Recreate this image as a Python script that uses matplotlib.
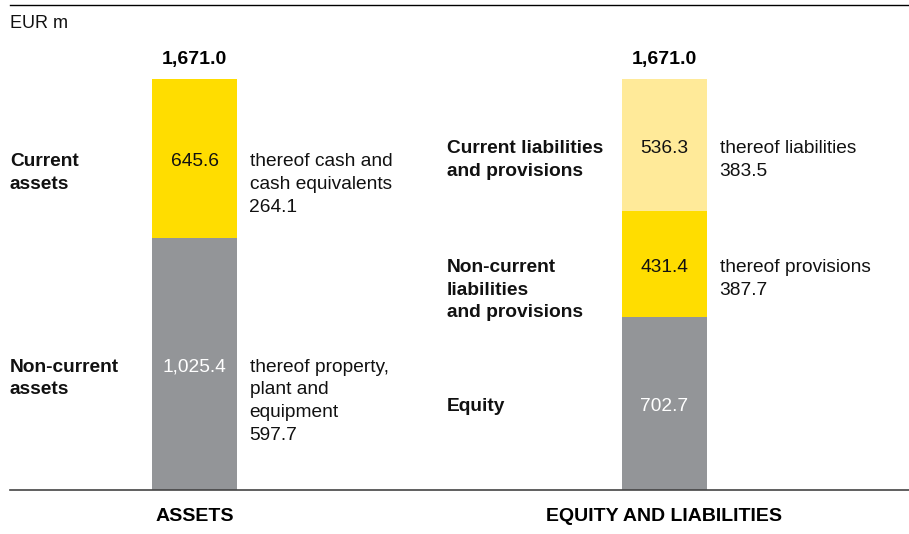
import matplotlib
matplotlib.use('Agg')
from matplotlib import pyplot as plt
from matplotlib.lines import Line2D

plt.rcParams['font.family'] = ['Liberation Sans', 'DejaVu Sans']

# Balance sheet structure, EUR m
categories = ['ASSETS', 'EQUITY AND LIABILITIES']
totals = [1671.0, 1671.0]

assets_values = [1025.4, 645.6]
assets_labels = ['Non-current\nassets', 'Current\nassets']
assets_notes = ['thereof property,\nplant and\nequipment\n597.7',
                'thereof cash and\ncash equivalents\n264.1']

equity_values = [702.7, 431.4, 536.3]
equity_labels = ['Equity', 'Non-current\nliabilities\nand provisions',
                 'Current liabilities\nand provisions']
equity_notes = ['', 'thereof provisions\n387.7', 'thereof liabilities\n383.5']

grey = '#939598'
yellow = '#FFDD00'
light_yellow = '#FFEA99'
assets_colors = [grey, yellow]
equity_colors = [grey, yellow, light_yellow]
text_colors = {grey: 'white', yellow: '#111111', light_yellow: '#111111'}

W, H = 909, 534
fig = plt.figure(figsize=(W / 100, H / 100), dpi=100)
ax = fig.add_axes([0, 0, 1, 1])
ax.axis('off')

# map data to the pixel layout of the original
px_per_x = 470.0
x0 = -194.5 / px_per_x
ax.set_xlim(x0, x0 + W / px_per_x)
units_per_px = 1671.0 / 411.0
ax.set_ylim(-44 * units_per_px, 1671.0 + 79 * units_per_px)

bar_w = 85 / px_per_x
fs = 13.8
dy = -5.5     # baseline offset so the first line sits on the segment middle
pitch = 16.4  # line pitch in points


def stacked_text(text, xy, dx=0, coords='data', **kw):
    # one annotation per line so the first line is anchored at xy
    for k, line in enumerate(text.split('\n')):
        ax.annotate(line, xy, xycoords=coords, xytext=(dx, dy - k * pitch),
                    textcoords='offset points', va='baseline', **kw)


def draw_stack(xpos, values, colors, labels, notes, label_x, label_trans):
    bottom = 0
    for v, c, lab, note in zip(values, colors, labels, notes):
        ax.bar(xpos, v, width=bar_w, bottom=bottom, color=c, linewidth=0)
        mid = bottom + v / 2
        stacked_text(f'{v:,.1f}', (xpos, mid), ha='center', fontsize=fs,
                     color=text_colors[c])
        stacked_text(lab, (label_x, mid), coords=label_trans, ha='left',
                     fontsize=fs, fontweight='bold', color='#111111')
        if note:
            stacked_text(note, (xpos + bar_w / 2, mid), dx=9, ha='left',
                         fontsize=fs, color='#111111')
        bottom += v


blend_assets = matplotlib.transforms.blended_transform_factory(ax.transAxes, ax.transData)
draw_stack(0, assets_values, assets_colors, assets_labels, assets_notes,
           10 / W, blend_assets)
draw_stack(1, equity_values, equity_colors, equity_labels, equity_notes,
           (447 - 194.5) / px_per_x, ax.transData)

for i, (cat, tot) in enumerate(zip(categories, totals)):
    ax.annotate(f'{tot:,.1f}', (i, tot), xytext=(0, 8), textcoords='offset points',
                ha='center', va='bottom', fontsize=14, fontweight='bold')
    ax.annotate(cat, (i, 0), xytext=(0, -13), textcoords='offset points',
                ha='center', va='top', fontsize=14, fontweight='bold')

# baseline and top rule
ax.axhline(0, xmin=10 / W, xmax=1, color='#444444', linewidth=1.2)
fig.add_artist(Line2D([10 / W, 1], [1 - 5 / H, 1 - 5 / H], color='black', linewidth=1.0))
fig.text(10 / W, 1 - 23 / H, 'EUR m', ha='left', va='center', fontsize=13, color='#111111')

fig.savefig('out.png', dpi=100)
